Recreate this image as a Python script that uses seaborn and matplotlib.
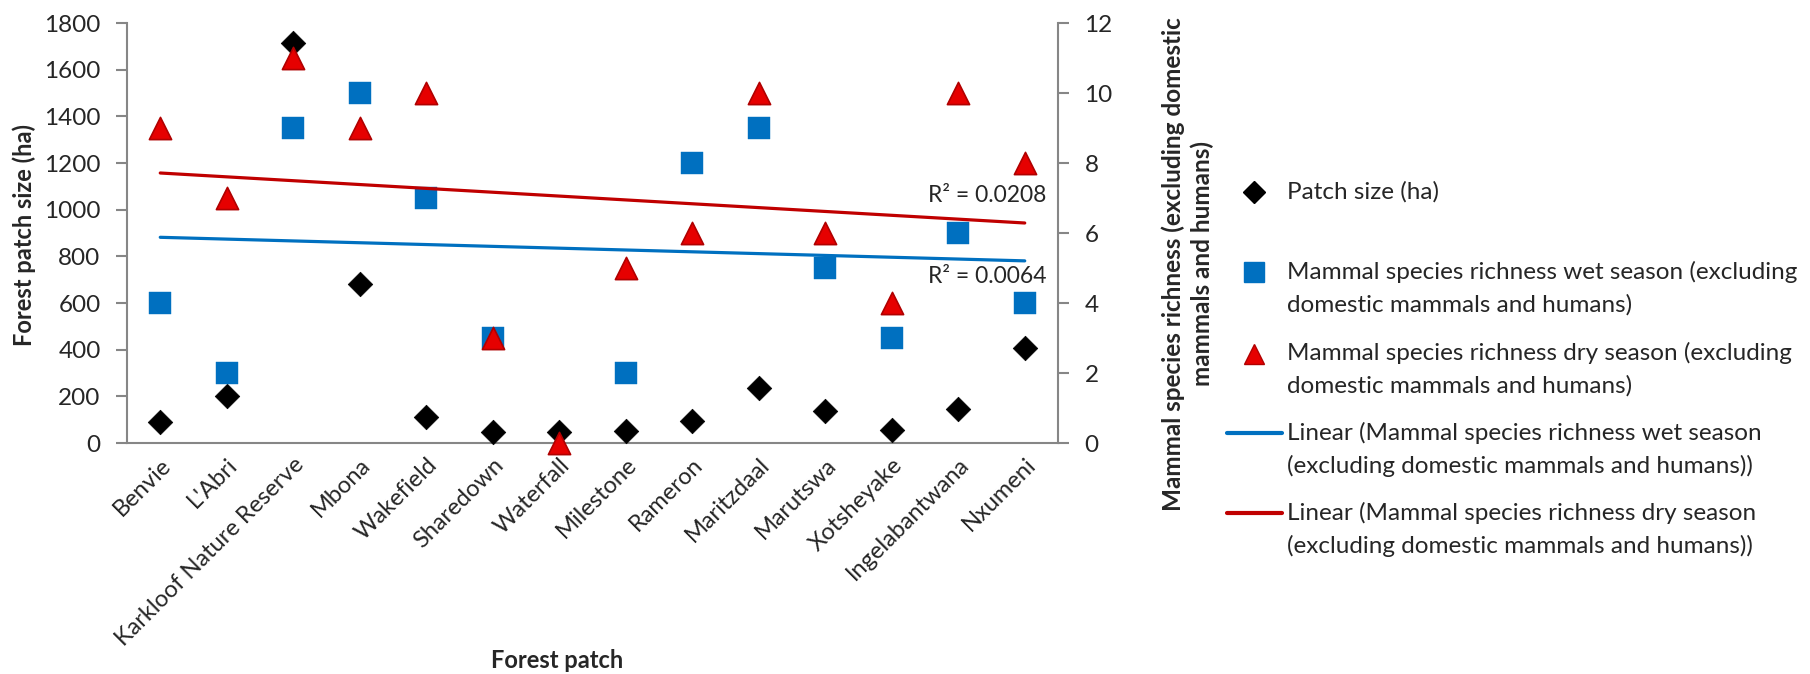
import numpy as np
import pandas as pd
import matplotlib
matplotlib.use("Agg")
import matplotlib.pyplot as plt
from matplotlib.lines import Line2D
import seaborn as sns

# ---- data ----
patches = ["Benvie", "L'Abri", "Karkloof Nature Reserve", "Mbona", "Wakefield",
           "Sharedown", "Waterfall", "Milestone", "Rameron", "Maritzdaal",
           "Marutswa", "Xotsheyake", "Ingelabantwana", "Nxumeni"]
patch_size_ha = [90, 200, 1713, 680, 110, 48, 48, 53, 94, 237, 138, 56, 146, 406]
richness_wet = [4, 2, 9, 10, 7, 3, np.nan, 2, 8, 9, 5, 3, 6, 4]
richness_dry = [9, 7, 11, 9, 10, 3, 0, 5, 6, 10, 6, 4, 10, 8]

left_ticks = [0, 200, 400, 600, 800, 1000, 1200, 1400, 1600, 1800]
right_ticks = [0, 2, 4, 6, 8, 10, 12]

df = pd.DataFrame({
    "patch": patches,
    "pos": np.arange(1, len(patches) + 1),
    "size": patch_size_ha,
    "wet": richness_wet,
    "dry": richness_dry,
})

# ---- style ----
sns.set_theme(style="white")
plt.rcParams["font.family"] = ["Lato", "DejaVu Sans"]
FS_NUM = 17.5
FS_R2 = 16.5
FS_CAT = 17
FS_LEG = 17.5
FS_TITLE = 17
GREY = "#868686"
BLUE = "#0070C0"
RED_FILL = "#E60000"
RED_EDGE = "#B00000"
RED_LINE = "#C00000"

W, H = 1810, 674
fig = plt.figure(figsize=(W / 100, H / 100), dpi=100)
x0, x1, y0, y1 = 127, 1058, 23, 443
ax = fig.add_axes([x0 / W, 1 - y1 / H, (x1 - x0) / W, (y1 - y0) / H])
ax2 = ax.twinx()

# primary axis: patch size
sns.scatterplot(data=df, x="pos", y="size", ax=ax, marker="D", s=12.5 ** 2,
                color="black", edgecolor="black", linewidth=0.5, zorder=3,
                legend=False, clip_on=False)

# secondary axis: richness and linear fits
sns.scatterplot(data=df, x="pos", y="wet", ax=ax2, marker="s", s=16.5 ** 2,
                color=BLUE, edgecolor=BLUE, linewidth=0.3, zorder=3,
                legend=False, clip_on=False)
sns.regplot(data=df, x="pos", y="wet", ax=ax2, scatter=False, ci=None,
            color=BLUE, line_kws={"lw": 2.3, "zorder": 4})
sns.scatterplot(data=df, x="pos", y="dry", ax=ax2, marker="^", s=16 ** 2,
                color=RED_FILL, edgecolor=RED_EDGE, linewidth=1.2, zorder=5,
                legend=False, clip_on=False)
sns.regplot(data=df, x="pos", y="dry", ax=ax2, scatter=False, ci=None,
            color=RED_LINE, line_kws={"lw": 2.3, "zorder": 4})


def fit_line(col):
    d = df.dropna(subset=[col])
    slope, icept = np.polyfit(d["pos"], d[col], 1)
    r2 = np.corrcoef(d["pos"], d[col])[0, 1] ** 2
    xe = d["pos"].max()
    return xe, slope * xe + icept, r2


xe, ye, r2_dry = fit_line("dry")
ax2.annotate(f"R² = {r2_dry:.4f}", xy=(xe, ye), xytext=(22, 28),
             textcoords="offset pixels", ha="right", va="center",
             fontsize=FS_R2)
xe, ye, r2_wet = fit_line("wet")
ax2.annotate(f"R² = {r2_wet:.4f}", xy=(xe, ye), xytext=(22, -16),
             textcoords="offset pixels", ha="right", va="center",
             fontsize=FS_R2)

# ---- axes formatting ----
n = len(patches)
ax.set_xlim(0.5, n + 0.5)
ax.set_ylim(0, 1800)
ax2.set_ylim(0, 12)
ax.set_yticks(left_ticks)
ax2.set_yticks(right_ticks)
ax.set_xticks(np.arange(0.5, n + 1, 1.0))
ax.set_xticklabels([])
ax.set_xticks(df["pos"], minor=True)
ax.set_xticklabels(patches, minor=True, rotation=45, ha="right",
                   rotation_mode="anchor", fontsize=FS_CAT)
ax.tick_params(axis="x", which="minor", length=0, pad=8)
ax.tick_params(axis="x", which="major", length=8, width=1.5, color=GREY,
               direction="out")
ax.tick_params(axis="y", length=8, width=1.5, color=GREY, direction="out",
               labelsize=FS_NUM, pad=11)
ax2.tick_params(axis="y", length=8, width=1.5, color=GREY, direction="out",
                labelsize=FS_NUM, pad=11)
ax.set_xlabel("")
ax.set_ylabel("")
ax2.set_xlabel("")
ax2.set_ylabel("")

for a in (ax, ax2):
    a.spines["top"].set_visible(False)
    a.grid(False)
    for side in ("left", "right", "bottom"):
        a.spines[side].set_color(GREY)
        a.spines[side].set_linewidth(1.5)
ax.spines["right"].set_visible(False)
ax2.spines["left"].set_visible(False)
ax2.spines["bottom"].set_visible(False)

# axis titles
fig.text(24 / W, 1 - 235 / H, "Forest patch size (ha)", rotation=90,
         ha="center", va="center", fontsize=FS_TITLE, fontweight="bold")
fig.text(557 / W, 1 - 660 / H, "Forest patch", ha="center", va="center",
         fontsize=FS_TITLE, fontweight="bold")
fig.text(1188 / W, 1 - 264 / H,
         "Mammal species richness (excluding domestic\nmammals and humans)",
         rotation=90, ha="center", va="center", multialignment="center",
         fontsize=17.5, fontweight="bold", linespacing=1.3)

# ---- legend ----
def fx(px):
    return px / W


def fy(py):
    return 1 - py / H


mx, tx = 1254, 1287
fig.add_artist(Line2D([fx(mx)], [fy(192)], marker="D", ms=11, color="black",
                      ls="none"))
fig.add_artist(Line2D([fx(mx)], [fy(272)], marker="s", ms=14, color=BLUE,
                      ls="none"))
fig.add_artist(Line2D([fx(mx)], [fy(354)], marker="^", ms=14,
                      markerfacecolor=RED_FILL, markeredgecolor=RED_EDGE,
                      ls="none"))
fig.add_artist(Line2D([fx(1227), fx(1282)], [fy(433), fy(433)], color=BLUE,
                      lw=3))
fig.add_artist(Line2D([fx(1227), fx(1282)], [fy(513), fy(513)], color=RED_LINE,
                      lw=3))

legend_rows = [
    (192, ["Patch size (ha)"]),
    (272, ["Mammal species richness wet season (excluding",
           "domestic mammals and humans)"]),
    (353, ["Mammal species richness dry season (excluding",
           "domestic mammals and humans)"]),
    (433, ["Linear (Mammal species richness wet season",
           "(excluding domestic mammals and humans))"]),
    (513, ["Linear (Mammal species richness dry season",
           "(excluding domestic mammals and humans))"]),
]
for py, lines in legend_rows:
    for k, line in enumerate(lines):
        fig.text(fx(tx), fy(py + 33 * k), line, ha="left", va="center",
                 fontsize=FS_LEG)

fig.savefig("out.png", dpi=100)
